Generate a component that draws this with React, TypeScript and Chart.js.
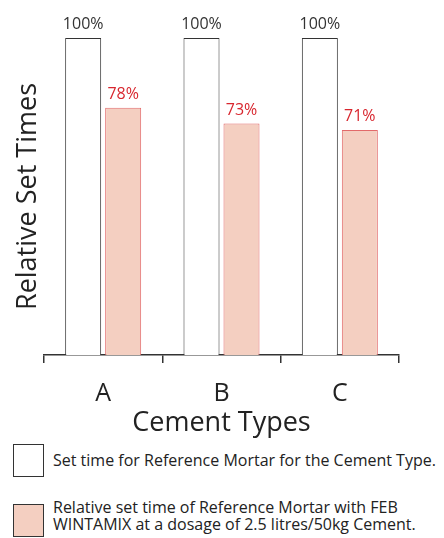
import React, { useEffect, useRef } from "react";
import { Chart, registerables } from "chart.js";

Chart.register(...registerables);

const categories = ["A", "B", "C"];
const referenceValues = [100, 100, 100];
const wintamixValues = [78, 73, 71];
const legendLabels = [
  "Set time for Reference Mortar for the Cement Type.",
  "Relative set time of Reference Mortar with FEB WINTAMIX at a dosage of 2.5 litres/50kg Cement.",
];

const FONT = "'Open Sans', 'DejaVu Sans', sans-serif";

const labelPlugin = {
  id: "barLabels",
  afterDatasetsDraw(chart: any) {
    const ctx = chart.ctx;
    ctx.save();
    ctx.font = `16px ${FONT}`;
    ctx.textAlign = "center";
    ctx.textBaseline = "alphabetic";
    chart.data.datasets.forEach((ds: any, di: number) => {
      const meta = chart.getDatasetMeta(di);
      ctx.fillStyle = di === 0 ? "#333333" : "#d8262e";
      meta.data.forEach((bar: any, i: number) => {
        ctx.fillText(`${ds.data[i]}%`, bar.x, bar.y - 9);
      });
    });
    ctx.restore();
  },
};

export default function App() {
  const ref = useRef<HTMLCanvasElement>(null);
  useEffect(() => {
    document.body.style.margin = "0";
    const chart = new Chart(ref.current!, {
      type: "bar",
      data: {
        labels: categories,
        datasets: [
          {
            label: legendLabels[0],
            data: referenceValues,
            backgroundColor: "#ffffff",
            borderColor: "#333333",
            borderWidth: 1,
          },
          {
            label: legendLabels[1],
            data: wintamixValues,
            backgroundColor: "#f4cfc1",
            borderColor: "#e26a6a",
            borderWidth: 1,
          },
        ],
      },
      options: {
        animation: false,
        responsive: false,
        maintainAspectRatio: false,
        layout: { padding: { top: 38, right: 45, left: 0, bottom: 0 } },
        datasets: { bar: { categoryPercentage: 0.676, barPercentage: 0.9 } },
        plugins: { legend: { display: false }, tooltip: { enabled: false } },
        scales: {
          x: {
            grid: {
              offset: true,
              drawOnChartArea: false,
              drawTicks: true,
              tickLength: 8,
              color: "#333333",
              lineWidth: 1.5,
            },
            border: { display: true, color: "#333333", width: 1.5 },
            ticks: { color: "#222222", font: { family: FONT, size: 25 }, padding: 16 },
            title: {
              display: true,
              text: "Cement Types",
              color: "#222222",
              font: { family: FONT, size: 27 },
              padding: { top: 0, bottom: 0 },
            },
            afterFit: (s: any) => {
              s.height = 85;
            },
          },
          y: {
            min: 0,
            max: 100,
            grid: { display: false },
            border: { display: false },
            ticks: { display: false },
            title: {
              display: true,
              text: "Relative Set Times",
              color: "#222222",
              font: { family: FONT, size: 27 },
              padding: { top: 12, bottom: 0 },
            },
            afterFit: (s: any) => {
              s.width = 44;
            },
          },
        },
      },
      plugins: [labelPlugin],
    });
    return () => chart.destroy();
  }, []);

  const box = (bg: string): React.CSSProperties => ({
    position: "absolute",
    left: 13,
    width: 31,
    height: 33,
    background: bg,
    border: "1px solid #333",
    boxSizing: "border-box",
  });
  const text: React.CSSProperties = {
    position: "absolute",
    left: 53,
    fontFamily: FONT,
    fontSize: 16,
    color: "#222",
    lineHeight: "17px",
    width: 391,
    whiteSpace: "nowrap",
  };

  return (
    <div style={{ position: "relative", width: 444, height: 538, background: "#fff" }}>
      <canvas ref={ref} width={444} height={440} style={{ position: "absolute", left: 0, top: 0 }} />
      <div style={{ ...box("#ffffff"), top: 444 }} />
      <div style={{ ...text, top: 452 }}>{legendLabels[0]}</div>
      <div style={{ ...box("#f4cfc1"), top: 504 }} />
      <div style={{ ...text, top: 499 }}>
        Relative set time of Reference Mortar with FEB
        <br />
        WINTAMIX at a dosage of 2.5 litres/50kg Cement.
      </div>
    </div>
  );
}
